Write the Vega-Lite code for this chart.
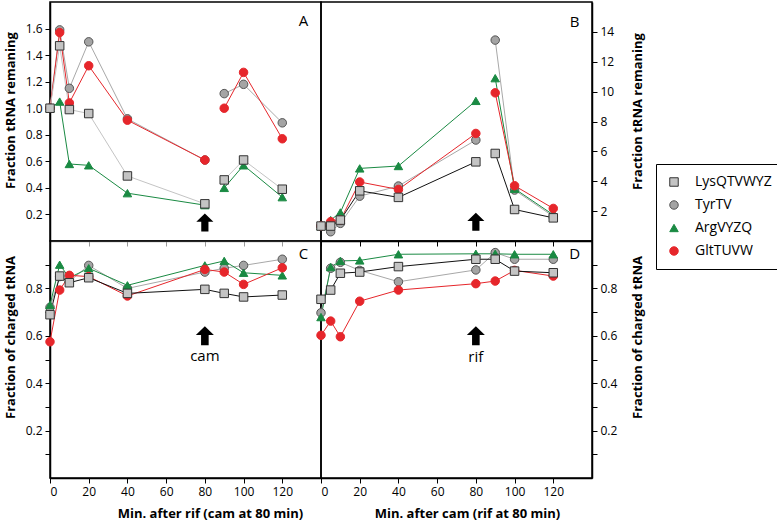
{
  "$schema": "https://vega.github.io/schema/vega-lite/v6.json",
  "padding": {"left": 3, "top": 1, "right": 0, "bottom": 0},
  "bounds": "flush",
  "columns": 2,
  "spacing": 0,
  "datasets": {
    "pts": [
      {"p":"A","s":"TyrTV","t":0,"v":1.0,"g":1},{"p":"A","s":"TyrTV","t":5,"v":1.59,"g":1},{"p":"A","s":"TyrTV","t":10,"v":1.15,"g":1},{"p":"A","s":"TyrTV","t":20,"v":1.50,"g":1},{"p":"A","s":"TyrTV","t":40,"v":0.92,"g":1},{"p":"A","s":"TyrTV","t":80,"v":0.61,"g":1},{"p":"A","s":"TyrTV","t":90,"v":1.11,"g":2},{"p":"A","s":"TyrTV","t":100,"v":1.18,"g":2},{"p":"A","s":"TyrTV","t":120,"v":0.89,"g":2},
      {"p":"A","s":"ArgVYZQ","t":0,"v":1.0,"g":1},{"p":"A","s":"ArgVYZQ","t":5,"v":1.05,"g":1},{"p":"A","s":"ArgVYZQ","t":10,"v":0.58,"g":1},{"p":"A","s":"ArgVYZQ","t":20,"v":0.57,"g":1},{"p":"A","s":"ArgVYZQ","t":40,"v":0.36,"g":1},{"p":"A","s":"ArgVYZQ","t":80,"v":0.27,"g":1},{"p":"A","s":"ArgVYZQ","t":90,"v":0.40,"g":2},{"p":"A","s":"ArgVYZQ","t":100,"v":0.57,"g":2},{"p":"A","s":"ArgVYZQ","t":120,"v":0.33,"g":2},
      {"p":"A","s":"GltTUVW","t":0,"v":1.0,"g":1},{"p":"A","s":"GltTUVW","t":5,"v":1.57,"g":1},{"p":"A","s":"GltTUVW","t":10,"v":1.04,"g":1},{"p":"A","s":"GltTUVW","t":20,"v":1.32,"g":1},{"p":"A","s":"GltTUVW","t":40,"v":0.91,"g":1},{"p":"A","s":"GltTUVW","t":80,"v":0.61,"g":1},{"p":"A","s":"GltTUVW","t":90,"v":1.0,"g":2},{"p":"A","s":"GltTUVW","t":100,"v":1.27,"g":2},{"p":"A","s":"GltTUVW","t":120,"v":0.77,"g":2},
      {"p":"A","s":"LysQTVWYZ","t":0,"v":1.0,"g":1},{"p":"A","s":"LysQTVWYZ","t":5,"v":1.47,"g":1},{"p":"A","s":"LysQTVWYZ","t":10,"v":0.99,"g":1},{"p":"A","s":"LysQTVWYZ","t":20,"v":0.96,"g":1},{"p":"A","s":"LysQTVWYZ","t":40,"v":0.49,"g":1},{"p":"A","s":"LysQTVWYZ","t":80,"v":0.28,"g":1},{"p":"A","s":"LysQTVWYZ","t":90,"v":0.46,"g":2},{"p":"A","s":"LysQTVWYZ","t":100,"v":0.61,"g":2},{"p":"A","s":"LysQTVWYZ","t":120,"v":0.39,"g":2},

      {"p":"B","s":"TyrTV","t":0,"v":1.0,"g":1},{"p":"B","s":"TyrTV","t":5,"v":0.62,"g":1},{"p":"B","s":"TyrTV","t":10,"v":1.18,"g":1},{"p":"B","s":"TyrTV","t":20,"v":3.0,"g":1},{"p":"B","s":"TyrTV","t":40,"v":3.68,"g":1},{"p":"B","s":"TyrTV","t":80,"v":6.76,"g":1},{"p":"B","s":"TyrTV","t":90,"v":13.45,"g":2},{"p":"B","s":"TyrTV","t":100,"v":3.41,"g":2},{"p":"B","s":"TyrTV","t":120,"v":1.65,"g":2},
      {"p":"B","s":"ArgVYZQ","t":0,"v":1.0,"g":1},{"p":"B","s":"ArgVYZQ","t":5,"v":1.4,"g":1},{"p":"B","s":"ArgVYZQ","t":10,"v":1.91,"g":1},{"p":"B","s":"ArgVYZQ","t":20,"v":4.86,"g":1},{"p":"B","s":"ArgVYZQ","t":40,"v":5.02,"g":1},{"p":"B","s":"ArgVYZQ","t":80,"v":9.38,"g":1},{"p":"B","s":"ArgVYZQ","t":90,"v":10.9,"g":2},{"p":"B","s":"ArgVYZQ","t":100,"v":3.5,"g":2},{"p":"B","s":"ArgVYZQ","t":120,"v":1.75,"g":2},
      {"p":"B","s":"GltTUVW","t":0,"v":1.0,"g":1},{"p":"B","s":"GltTUVW","t":5,"v":1.29,"g":1},{"p":"B","s":"GltTUVW","t":10,"v":1.4,"g":1},{"p":"B","s":"GltTUVW","t":20,"v":3.95,"g":1},{"p":"B","s":"GltTUVW","t":40,"v":3.45,"g":1},{"p":"B","s":"GltTUVW","t":80,"v":7.2,"g":1},{"p":"B","s":"GltTUVW","t":90,"v":9.92,"g":2},{"p":"B","s":"GltTUVW","t":100,"v":3.7,"g":2},{"p":"B","s":"GltTUVW","t":120,"v":2.18,"g":2},
      {"p":"B","s":"LysQTVWYZ","t":0,"v":1.0,"g":1},{"p":"B","s":"LysQTVWYZ","t":5,"v":1.0,"g":1},{"p":"B","s":"LysQTVWYZ","t":10,"v":1.4,"g":1},{"p":"B","s":"LysQTVWYZ","t":20,"v":3.36,"g":1},{"p":"B","s":"LysQTVWYZ","t":40,"v":2.92,"g":1},{"p":"B","s":"LysQTVWYZ","t":80,"v":5.3,"g":1},{"p":"B","s":"LysQTVWYZ","t":90,"v":5.86,"g":2},{"p":"B","s":"LysQTVWYZ","t":100,"v":2.11,"g":2},{"p":"B","s":"LysQTVWYZ","t":120,"v":1.55,"g":2},

      {"p":"C","s":"TyrTV","t":0,"v":0.72,"g":1},{"p":"C","s":"TyrTV","t":5,"v":0.85,"g":1},{"p":"C","s":"TyrTV","t":10,"v":0.83,"g":1},{"p":"C","s":"TyrTV","t":20,"v":0.897,"g":1},{"p":"C","s":"TyrTV","t":40,"v":0.80,"g":1},{"p":"C","s":"TyrTV","t":80,"v":0.869,"g":1},{"p":"C","s":"TyrTV","t":90,"v":0.885,"g":1},{"p":"C","s":"TyrTV","t":100,"v":0.897,"g":1},{"p":"C","s":"TyrTV","t":120,"v":0.923,"g":1},
      {"p":"C","s":"ArgVYZQ","t":0,"v":0.73,"g":1},{"p":"C","s":"ArgVYZQ","t":5,"v":0.90,"g":1},{"p":"C","s":"ArgVYZQ","t":10,"v":0.845,"g":1},{"p":"C","s":"ArgVYZQ","t":20,"v":0.885,"g":1},{"p":"C","s":"ArgVYZQ","t":40,"v":0.813,"g":1},{"p":"C","s":"ArgVYZQ","t":80,"v":0.897,"g":1},{"p":"C","s":"ArgVYZQ","t":90,"v":0.916,"g":1},{"p":"C","s":"ArgVYZQ","t":100,"v":0.866,"g":1},{"p":"C","s":"ArgVYZQ","t":120,"v":0.855,"g":1},
      {"p":"C","s":"GltTUVW","t":0,"v":0.575,"g":1},{"p":"C","s":"GltTUVW","t":5,"v":0.793,"g":1},{"p":"C","s":"GltTUVW","t":10,"v":0.855,"g":1},{"p":"C","s":"GltTUVW","t":20,"v":0.85,"g":1},{"p":"C","s":"GltTUVW","t":40,"v":0.768,"g":1},{"p":"C","s":"GltTUVW","t":80,"v":0.88,"g":1},{"p":"C","s":"GltTUVW","t":90,"v":0.869,"g":1},{"p":"C","s":"GltTUVW","t":100,"v":0.817,"g":1},{"p":"C","s":"GltTUVW","t":120,"v":0.887,"g":1},
      {"p":"C","s":"LysQTVWYZ","t":0,"v":0.689,"g":1},{"p":"C","s":"LysQTVWYZ","t":5,"v":0.852,"g":1},{"p":"C","s":"LysQTVWYZ","t":10,"v":0.824,"g":1},{"p":"C","s":"LysQTVWYZ","t":20,"v":0.845,"g":1},{"p":"C","s":"LysQTVWYZ","t":40,"v":0.779,"g":1},{"p":"C","s":"LysQTVWYZ","t":80,"v":0.796,"g":1},{"p":"C","s":"LysQTVWYZ","t":90,"v":0.779,"g":1},{"p":"C","s":"LysQTVWYZ","t":100,"v":0.764,"g":1},{"p":"C","s":"LysQTVWYZ","t":120,"v":0.772,"g":1},

      {"p":"D","s":"TyrTV","t":0,"v":0.697,"g":1},{"p":"D","s":"TyrTV","t":5,"v":0.885,"g":1},{"p":"D","s":"TyrTV","t":10,"v":0.91,"g":1},{"p":"D","s":"TyrTV","t":20,"v":0.876,"g":1},{"p":"D","s":"TyrTV","t":40,"v":0.828,"g":1},{"p":"D","s":"TyrTV","t":80,"v":0.878,"g":1},{"p":"D","s":"TyrTV","t":90,"v":0.951,"g":1},{"p":"D","s":"TyrTV","t":100,"v":0.923,"g":1},{"p":"D","s":"TyrTV","t":120,"v":0.923,"g":1},
      {"p":"D","s":"ArgVYZQ","t":0,"v":0.679,"g":1},{"p":"D","s":"ArgVYZQ","t":5,"v":0.89,"g":1},{"p":"D","s":"ArgVYZQ","t":10,"v":0.916,"g":1},{"p":"D","s":"ArgVYZQ","t":20,"v":0.918,"g":1},{"p":"D","s":"ArgVYZQ","t":40,"v":0.944,"g":1},{"p":"D","s":"ArgVYZQ","t":80,"v":0.946,"g":1},{"p":"D","s":"ArgVYZQ","t":90,"v":0.946,"g":1},{"p":"D","s":"ArgVYZQ","t":100,"v":0.944,"g":1},{"p":"D","s":"ArgVYZQ","t":120,"v":0.944,"g":1},
      {"p":"D","s":"GltTUVW","t":0,"v":0.602,"g":1},{"p":"D","s":"GltTUVW","t":5,"v":0.662,"g":1},{"p":"D","s":"GltTUVW","t":10,"v":0.596,"g":1},{"p":"D","s":"GltTUVW","t":20,"v":0.746,"g":1},{"p":"D","s":"GltTUVW","t":40,"v":0.793,"g":1},{"p":"D","s":"GltTUVW","t":80,"v":0.82,"g":1},{"p":"D","s":"GltTUVW","t":90,"v":0.831,"g":1},{"p":"D","s":"GltTUVW","t":100,"v":0.876,"g":1},{"p":"D","s":"GltTUVW","t":120,"v":0.852,"g":1},
      {"p":"D","s":"LysQTVWYZ","t":0,"v":0.754,"g":1},{"p":"D","s":"LysQTVWYZ","t":5,"v":0.793,"g":1},{"p":"D","s":"LysQTVWYZ","t":10,"v":0.864,"g":1},{"p":"D","s":"LysQTVWYZ","t":20,"v":0.869,"g":1},{"p":"D","s":"LysQTVWYZ","t":40,"v":0.892,"g":1},{"p":"D","s":"LysQTVWYZ","t":80,"v":0.923,"g":1},{"p":"D","s":"LysQTVWYZ","t":90,"v":0.923,"g":1},{"p":"D","s":"LysQTVWYZ","t":100,"v":0.873,"g":1},{"p":"D","s":"LysQTVWYZ","t":120,"v":0.866,"g":1}
    ],
    "notes": [
      {"p":"A","k":"arrow","t":80,"v":0.14},
      {"p":"B","k":"arrow","t":80,"v":1.29},
      {"p":"C","k":"arrow","t":80,"v":0.6},
      {"p":"D","k":"arrow","t":80,"v":0.6},
      {"p":"C","k":"text","t":80,"v":0.515,"label":"cam"},
      {"p":"D","k":"text","t":80,"v":0.51,"label":"rif"},
      {"p":"A","k":"letter","t":131,"v":1.66,"label":"A"},
      {"p":"B","k":"letter","t":131,"v":14.67,"label":"B"},
      {"p":"C","k":"letter","t":131,"v":0.946,"label":"C"},
      {"p":"D","k":"letter","t":131,"v":0.946,"label":"D"}
    ]
  },
  "concat": [
    {
      "width": 271, "height": 239,
      "layer": [
        {
          "data": {"name": "pts"}, "transform": [{"filter": "datum.p === 'A'"}],
          "mark": {"type": "line", "strokeWidth": 1},
          "encoding": {
            "x": {"field": "t", "type": "quantitative", "scale": {"domain": [0, 140], "nice": false}, "axis": {"orient": "bottom", "labels": false, "title": null, "values": [0,20,40,60,80,100,120], "tickCount": 20, "domainColor": "#9a9a9a", "tickColor": "#9a9a9a"}},
            "y": {"field": "v", "type": "quantitative", "scale": {"domain": [0, 1.8], "nice": false}, "axis": {"orient": "left", "values": [0.2,0.4,0.6,0.8,1.0,1.2,1.4,1.6], "tickCount": 20, "format": ".1f", "title": "Fraction tRNA remaning", "titleY": 108}},
            "detail": {"field": "g", "type": "nominal"},
            "color": {"field": "s", "type": "nominal", "legend": null, "scale": {"domain": ["TyrTV","LysQTVWYZ","ArgVYZQ","GltTUVW"], "range": ["#a8a8a8","#111111","#1a8a43","#e6262b"]}, "condition": {"test": "datum.s === 'LysQTVWYZ'", "value": "#c4c4c4"}}
          }
        },
        {
          "data": {"name": "pts"}, "transform": [{"filter": "datum.p === 'A'"}],
          "mark": {"type": "point", "filled": true, "strokeWidth": 1, "opacity": 1, "size": 72},
          "encoding": {
            "x": {"field": "t", "type": "quantitative"},
            "y": {"field": "v", "type": "quantitative"},
            "shape": {"field": "s", "type": "nominal", "scale": {"domain": ["LysQTVWYZ","TyrTV","ArgVYZQ","GltTUVW"], "range": ["square","circle","triangle-up","circle"]},
              "legend": {"orient": "none", "legendX": 606, "legendY": 162, "title": null, "strokeColor": "black", "padding": 11, "symbolSize": 72, "symbolStrokeWidth": 1, "labelFont": "Open Sans", "labelFontSize": 14, "labelColor": "black", "labelOffset": 14, "rowPadding": 9,
                "encode": {"symbols": {"shape": {"value": {"expr": "datum.value === 'LysQTVWYZ' ? 'M-1,0H1M-0.3,-0.3H0.3V0.3H-0.3Z' : datum.value === 'ArgVYZQ' ? 'M-1,0H1M0,-0.38L0.36,0.25H-0.36Z' : 'M-1,0H1M0.32,0A0.32,0.32,0,1,1,-0.32,0A0.32,0.32,0,1,1,0.32,0Z'"}}, "size": {"value": 484}}}}},
            "fill": {"field": "s", "type": "nominal", "scale": {"domain": ["LysQTVWYZ","TyrTV","ArgVYZQ","GltTUVW"], "range": ["#c4c4c4","#a4a4a4","#1a8a43","#e6262b"]},
              "legend": {"orient": "none", "legendX": 606, "legendY": 162, "title": null, "strokeColor": "black", "padding": 11, "symbolSize": 72, "symbolStrokeWidth": 1, "labelFont": "Open Sans", "labelFontSize": 14, "labelColor": "black", "labelOffset": 14, "rowPadding": 9,
                "encode": {"symbols": {"shape": {"value": {"expr": "datum.value === 'LysQTVWYZ' ? 'M-1,0H1M-0.3,-0.3H0.3V0.3H-0.3Z' : datum.value === 'ArgVYZQ' ? 'M-1,0H1M0,-0.38L0.36,0.25H-0.36Z' : 'M-1,0H1M0.32,0A0.32,0.32,0,1,1,-0.32,0A0.32,0.32,0,1,1,0.32,0Z'"}}, "size": {"value": 484}}}}},
            "stroke": {"field": "s", "type": "nominal", "scale": {"domain": ["LysQTVWYZ","TyrTV","ArgVYZQ","GltTUVW"], "range": ["#333333","#555555","#1a8a43","#e6262b"]},
              "legend": {"orient": "none", "legendX": 606, "legendY": 162, "title": null, "strokeColor": "black", "padding": 11, "symbolSize": 72, "symbolStrokeWidth": 1, "labelFont": "Open Sans", "labelFontSize": 14, "labelColor": "black", "labelOffset": 14, "rowPadding": 9,
                "encode": {"symbols": {"shape": {"value": {"expr": "datum.value === 'LysQTVWYZ' ? 'M-1,0H1M-0.3,-0.3H0.3V0.3H-0.3Z' : datum.value === 'ArgVYZQ' ? 'M-1,0H1M0,-0.38L0.36,0.25H-0.36Z' : 'M-1,0H1M0.32,0A0.32,0.32,0,1,1,-0.32,0A0.32,0.32,0,1,1,0.32,0Z'"}}, "size": {"value": 484}}}}}
          }
        },
        {
          "data": {"name": "notes"}, "transform": [{"filter": "datum.p === 'A' && datum.k === 'arrow'"}],
          "mark": {"type": "point", "filled": true, "color": "black", "opacity": 1, "size": 324, "shape": "M0,-1L0.95,-0.08L0.4,-0.08L0.4,1L-0.4,1L-0.4,-0.08L-0.95,-0.08Z"},
          "encoding": {"x": {"field": "t", "type": "quantitative"}, "y": {"field": "v", "type": "quantitative"}}
        },
        {
          "data": {"name": "notes"}, "transform": [{"filter": "datum.p === 'A' && datum.k !== 'arrow'"}],
          "mark": {"type": "text", "fontSize": 15, "font": "Open Sans", "color": "black"},
          "encoding": {"x": {"field": "t", "type": "quantitative"}, "y": {"field": "v", "type": "quantitative"}, "text": {"field": "label"}}
        }
      ]
    },
    {
      "width": 271, "height": 239,
      "layer": [
        {
          "data": {"name": "pts"}, "transform": [{"filter": "datum.p === 'B'"}],
          "mark": {"type": "line", "strokeWidth": 1},
          "encoding": {
            "x": {"field": "t", "type": "quantitative", "scale": {"domain": [0, 140], "nice": false}, "axis": {"orient": "bottom", "labels": false, "title": null, "values": [0,20,40,60,80,100,120], "tickCount": 20}},
            "y": {"field": "v", "type": "quantitative", "scale": {"domain": [0, 16], "nice": false}, "axis": {"orient": "right", "values": [2,4,6,8,10,12,14], "tickCount": 20, "title": "Fraction tRNA remaning", "titleAngle": -90, "titleBaseline": "middle", "titleX": 45, "titleY": 109}},
            "detail": {"field": "g", "type": "nominal"},
            "color": {"field": "s", "type": "nominal", "legend": null}
          }
        },
        {
          "data": {"name": "pts"}, "transform": [{"filter": "datum.p === 'B'"}],
          "mark": {"type": "point", "filled": true, "strokeWidth": 1, "opacity": 1, "size": 72},
          "encoding": {
            "x": {"field": "t", "type": "quantitative"},
            "y": {"field": "v", "type": "quantitative"},
            "shape": {"field": "s", "type": "nominal"},
            "fill": {"field": "s", "type": "nominal"},
            "stroke": {"field": "s", "type": "nominal"}
          }
        },
        {
          "data": {"name": "notes"}, "transform": [{"filter": "datum.p === 'B' && datum.k === 'arrow'"}],
          "mark": {"type": "point", "filled": true, "color": "black", "opacity": 1, "size": 324, "shape": "M0,-1L0.95,-0.08L0.4,-0.08L0.4,1L-0.4,1L-0.4,-0.08L-0.95,-0.08Z"},
          "encoding": {"x": {"field": "t", "type": "quantitative"}, "y": {"field": "v", "type": "quantitative"}}
        },
        {
          "data": {"name": "notes"}, "transform": [{"filter": "datum.p === 'B' && datum.k !== 'arrow'"}],
          "mark": {"type": "text", "fontSize": 15, "font": "Open Sans", "color": "black"},
          "encoding": {"x": {"field": "t", "type": "quantitative"}, "y": {"field": "v", "type": "quantitative"}, "text": {"field": "label"}}
        }
      ]
    },
    {
      "width": 271, "height": 237,
      "layer": [
        {
          "data": {"name": "pts"}, "transform": [{"filter": "datum.p === 'C'"}],
          "mark": {"type": "line", "strokeWidth": 1},
          "encoding": {
            "x": {"field": "t", "type": "quantitative", "scale": {"domain": [0, 140], "nice": false}, "axis": {"orient": "bottom", "values": [0,20,40,60,80,100,120], "tickCount": 20, "title": "Min. after rif (cam at 80 min)", "titleX": 160, "titlePadding": 10}},
            "y": {"field": "v", "type": "quantitative", "scale": {"domain": [0, 1], "nice": false}, "axis": {"orient": "left", "values": [0.1,0.2,0.3,0.4,0.5,0.6,0.7,0.8,0.9], "tickCount": 20, "labelExpr": "round(datum.value*10) % 2 === 0 ? format(datum.value, '.1f') : ''", "title": "Fraction of charged tRNA", "titleY": 96}},
            "detail": {"field": "g", "type": "nominal"},
            "color": {"field": "s", "type": "nominal", "legend": null}
          }
        },
        {
          "data": {"name": "pts"}, "transform": [{"filter": "datum.p === 'C'"}],
          "mark": {"type": "point", "filled": true, "strokeWidth": 1, "opacity": 1, "size": 72},
          "encoding": {
            "x": {"field": "t", "type": "quantitative"},
            "y": {"field": "v", "type": "quantitative"},
            "shape": {"field": "s", "type": "nominal"},
            "fill": {"field": "s", "type": "nominal"},
            "stroke": {"field": "s", "type": "nominal"}
          }
        },
        {
          "data": {"name": "notes"}, "transform": [{"filter": "datum.p === 'C' && datum.k === 'arrow'"}],
          "mark": {"type": "point", "filled": true, "color": "black", "opacity": 1, "size": 361, "shape": "M0,-1L0.95,-0.08L0.4,-0.08L0.4,1L-0.4,1L-0.4,-0.08L-0.95,-0.08Z"},
          "encoding": {"x": {"field": "t", "type": "quantitative"}, "y": {"field": "v", "type": "quantitative"}}
        },
        {
          "data": {"name": "notes"}, "transform": [{"filter": "datum.p === 'C' && datum.k !== 'arrow'"}],
          "mark": {"type": "text", "fontSize": 15, "font": "Open Sans", "color": "black"},
          "encoding": {"x": {"field": "t", "type": "quantitative"}, "y": {"field": "v", "type": "quantitative"}, "text": {"field": "label"}}
        }
      ]
    },
    {
      "width": 271, "height": 237,
      "layer": [
        {
          "data": {"name": "pts"}, "transform": [{"filter": "datum.p === 'D'"}],
          "mark": {"type": "line", "strokeWidth": 1},
          "encoding": {
            "x": {"field": "t", "type": "quantitative", "scale": {"domain": [0, 140], "nice": false}, "axis": {"orient": "bottom", "values": [0,20,40,60,80,100,120], "tickCount": 20, "title": "Min. after cam (rif at 80 min)", "titleX": 146, "titlePadding": 10}},
            "y": {"field": "v", "type": "quantitative", "scale": {"domain": [0, 1], "nice": false}, "axis": {"orient": "right", "values": [0.1,0.2,0.3,0.4,0.5,0.6,0.7,0.8,0.9], "tickCount": 20, "labelExpr": "round(datum.value*10) % 2 === 0 ? format(datum.value, '.1f') : ''", "title": "Fraction of charged tRNA", "titleAngle": -90, "titleBaseline": "middle", "titleX": 45, "titleY": 96}},
            "detail": {"field": "g", "type": "nominal"},
            "color": {"field": "s", "type": "nominal", "legend": null}
          }
        },
        {
          "data": {"name": "pts"}, "transform": [{"filter": "datum.p === 'D'"}],
          "mark": {"type": "point", "filled": true, "strokeWidth": 1, "opacity": 1, "size": 72},
          "encoding": {
            "x": {"field": "t", "type": "quantitative"},
            "y": {"field": "v", "type": "quantitative"},
            "shape": {"field": "s", "type": "nominal"},
            "fill": {"field": "s", "type": "nominal"},
            "stroke": {"field": "s", "type": "nominal"}
          }
        },
        {
          "data": {"name": "notes"}, "transform": [{"filter": "datum.p === 'D' && datum.k === 'arrow'"}],
          "mark": {"type": "point", "filled": true, "color": "black", "opacity": 1, "size": 361, "shape": "M0,-1L0.95,-0.08L0.4,-0.08L0.4,1L-0.4,1L-0.4,-0.08L-0.95,-0.08Z"},
          "encoding": {"x": {"field": "t", "type": "quantitative"}, "y": {"field": "v", "type": "quantitative"}}
        },
        {
          "data": {"name": "notes"}, "transform": [{"filter": "datum.p === 'D' && datum.k !== 'arrow'"}],
          "mark": {"type": "text", "fontSize": 15, "font": "Open Sans", "color": "black"},
          "encoding": {"x": {"field": "t", "type": "quantitative"}, "y": {"field": "v", "type": "quantitative"}, "text": {"field": "label"}}
        }
      ]
    }
  ],
  "resolve": {"scale": {"x": "independent", "y": "independent"}},
  "config": {
    "view": {"stroke": "black", "strokeWidth": 1.5},
    "axis": {"grid": false, "labelOverlap": false, "domainColor": "black", "domainWidth": 1.5, "tickColor": "black", "tickSize": 5, "labelColor": "black", "labelFont": "Open Sans", "labelFontSize": 12, "labelPadding": 3, "titleFont": "Open Sans", "titleFontSize": 13, "titleFontWeight": "bold", "titleColor": "black", "titlePadding": 8}
  }
}
